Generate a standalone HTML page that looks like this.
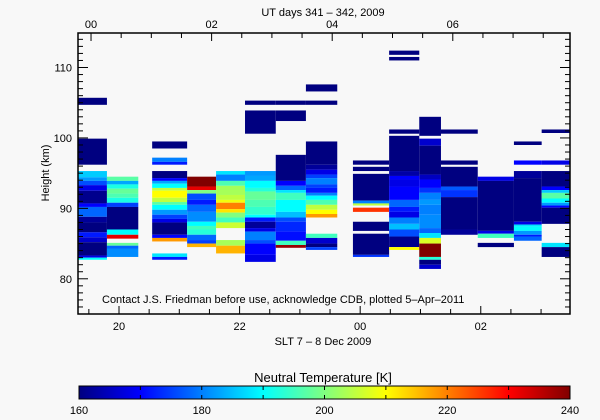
<!DOCTYPE html>
<html><head><meta charset="utf-8"><style>
body{margin:0;background:#f8f8f8;}
svg{display:block;font-family:"Liberation Sans",sans-serif;}
</style></head><body>
<svg id="chart" width="600" height="420" viewBox="0 0 600 420" xmlns="http://www.w3.org/2000/svg">
<rect width="600" height="420" fill="#f8f8f8"/>
<g id="cells"></g>
<g id="axes"></g>
<text x="102" y="303" font-size="11" fill="#000">Contact J.S. Friedman before use, acknowledge CDB, plotted 5–Apr–2011</text>
<text x="323" y="16" font-size="11" text-anchor="middle">UT days 341 – 342, 2009</text>
<text x="323" y="345" font-size="11" text-anchor="middle">SLT 7 – 8 Dec 2009</text>
<text transform="translate(49,173) rotate(-90)" font-size="11" text-anchor="middle">Height (km)</text>
<text x="323" y="382" font-size="13" text-anchor="middle">Neutral Temperature [K]</text>
<defs><linearGradient id="jet" x1="0" x2="1" y1="0" y2="0">
<stop offset="0" stop-color="#000080"/><stop offset="0.125" stop-color="#0000ff"/><stop offset="0.375" stop-color="#00ffff"/><stop offset="0.625" stop-color="#ffff00"/><stop offset="0.875" stop-color="#ff0000"/><stop offset="1" stop-color="#800000"/></linearGradient></defs>
<rect x="79" y="386" width="491" height="13" fill="url(#jet)" stroke="#000" stroke-width="1"/>
<g id="cbar"></g>
</svg>
<script>
// time bins (SLT hours, continuous past 24)
const colStart=[19.32,19.80,20.55,21.13,21.61,22.09,22.60,23.10,23.88,24.48,24.98,25.34,25.95,26.55,27.01];
const colEnd=[19.80,20.32,21.13,21.61,22.09,22.60,23.10,23.62,24.48,24.98,25.34,25.95,26.55,27.01,27.48];
// segments per column: [bottom km, top km, temperature K]
const col1=[[104.7,105.7,160],[96.2,99.9,160],[94.4,95.3,186],[93.9,94.4,182],[93.3,93.9,176],[92.5,93.3,168],[90.7,92.5,161],[90.2,90.7,170],[88.8,90.2,178],[88.0,88.8,162],[86.6,88.0,160],[85.9,86.6,172],[85.2,85.9,166],[83.3,85.2,160],[83.0,83.3,168],[82.7,83.0,190]];
const col2=[[93.9,94.5,197],[93.4,93.9,183],[92.8,93.4,192],[92.1,92.8,198],[91.5,92.1,196],[90.8,91.5,192],[90.2,90.8,175],[87.0,90.2,160],[86.25,87.0,190],[85.7,86.25,232],[84.7,85.1,198],[84.3,84.7,178],[83.1,84.3,181]];
const col3=[[98.5,99.5,160],[96.6,97.2,180],[96.2,96.6,172],[94.3,95.3,160],[93.9,94.3,170],[93.5,93.9,183],[92.9,93.5,190],[92.5,92.9,205],[91.5,92.5,210],[90.9,91.5,205],[90.5,90.9,197],[89.8,90.5,190],[89.1,89.8,182],[88.5,89.1,175],[88.0,88.5,168],[86.25,88.0,160],[85.8,86.25,170],[85.3,85.8,218],[83.1,83.6,188],[82.7,83.1,172]];
const col4=[[93.1,94.5,240],[92.6,93.1,232],[92.1,92.6,200],[91.2,92.1,176],[90.5,91.2,172],[89.5,90.5,178],[88.1,89.5,181],[87.5,88.1,190],[87.0,87.5,195],[86.25,87.0,193],[85.5,86.25,178],[85.0,85.5,175],[84.5,85.0,216]];
const col5=[[94.8,95.3,188],[93.9,94.8,180],[93.2,93.9,196],[91.9,93.2,203],[91.2,91.9,205],[90.8,91.2,209],[89.9,90.8,220],[89.4,89.9,212],[88.7,89.4,200],[88.0,88.7,195],[87.2,88.0,206],[84.7,85.5,203],[83.6,84.7,216]];
const col6=[[104.7,105.3,160],[100.6,103.9,160],[94.6,95.3,182],[93.9,94.6,183],[92.9,93.9,190],[92.4,92.9,193],[91.2,92.4,198],[90.2,91.2,196],[89.1,90.2,194],[88.7,89.1,190],[88.1,88.7,172],[87.2,88.1,162],[86.7,87.2,168],[85.5,86.7,180],[85.0,85.5,176],[83.4,85.0,170],[82.4,83.4,168]];
const col7=[[104.7,105.3,160],[102.4,103.9,160],[93.9,97.6,160],[93.2,93.9,170],[92.6,93.2,178],[92.2,92.6,188],[91.2,92.2,195],[89.5,91.2,190],[88.7,89.5,185],[88.1,88.7,176],[86.7,88.1,173],[85.4,86.7,171],[84.8,85.4,195],[84.4,84.8,238]];
const col8=[[106.6,107.6,160],[104.7,105.3,160],[96.2,99.5,160],[95.5,96.2,162],[94.8,95.5,168],[94.3,94.8,175],[93.4,94.3,180],[92.9,93.4,175],[92.2,92.9,172],[91.8,92.2,180],[91.2,91.8,190],[90.5,91.2,196],[89.8,90.5,205],[89.2,89.8,210],[88.7,89.2,218],[85.8,86.4,195],[85.0,85.8,166],[84.5,85.0,160],[84.1,84.5,175]];
const col9=[[96.2,96.8,160],[95.3,95.9,160],[91.1,94.9,160],[90.7,91.1,180],[90.4,90.7,205],[89.5,90.1,226],[86.8,88.1,160],[83.4,86.4,160],[83.1,83.4,174]];
const col10=[[111.8,112.4,160],[111.0,111.5,160],[100.6,101.2,160],[95.3,100.3,160],[94.6,95.3,163],[94.1,94.6,170],[93.1,94.1,168],[91.2,93.1,170],[90.2,91.2,178],[89.5,90.2,172],[88.7,89.5,168],[87.8,88.7,180],[87.0,87.8,185],[86.0,87.0,176],[84.5,86.0,161],[84.1,84.5,210]];
const col11=[[100.3,103.0,160],[98.9,99.9,166],[94.8,98.9,160],[94.1,94.8,165],[92.9,94.1,170],[92.2,92.9,174],[91.2,92.2,180],[90.5,91.2,182],[89.1,90.5,180],[87.2,89.1,181],[86.5,87.2,178],[85.8,86.5,188],[85.0,85.8,207],[83.1,85.0,240],[82.7,83.1,193],[82.0,82.7,160],[81.4,82.0,166]];
const col12=[[100.6,101.2,160],[96.2,96.8,160],[93.1,95.9,160],[92.6,93.1,177],[91.6,92.6,174],[87.0,91.6,160],[86.25,87.0,162]];
const col13=[[93.9,94.5,168],[86.8,93.9,160],[86.4,86.8,168],[85.8,86.4,195],[84.5,85.1,160]];
const col14=[[99.0,99.5,160],[96.2,96.8,170],[94.3,95.3,162],[88.1,94.3,160],[87.7,88.1,168],[87.4,87.7,188],[86.8,87.4,190],[86.25,86.8,182],[86.0,86.25,172],[85.4,86.0,178]];
const col15=[[100.7,101.2,160],[96.2,96.8,168],[93.1,95.3,160],[92.6,93.1,170],[92.2,92.6,186],[91.4,92.2,197],[90.8,91.4,190],[90.4,90.8,182],[90.1,90.4,170],[87.8,90.1,160],[84.5,85.1,188],[83.1,84.5,160]];
const columns=[col1,col2,col3,col4,col5,col6,col7,col8,col9,col10,col11,col12,col13,col14,col15];
const yTicks=[80,90,100,110];
const xTickLabels=["20","22","00","02"];
const xTickHours=[20,22,24,26];
const utTickLabels=["00","02","04","06"];
const utTickHours=[0,2,4,6];
const cbarTicks=[160,180,200,220,240];

const NS="http://www.w3.org/2000/svg";
const PL=78,PR=570,PT=33,PB=314;
const T0=19.32,T1=27.48,H0=75.0,H1=114.9;
const UT_OFFSET=19.536;
function xs(t){return PL+(t-T0)/(T1-T0)*(PR-PL);}
function ys(h){return PB-(h-H0)/(H1-H0)*(PB-PT);}
function jet(v){
  let f=Math.max(0,Math.min(1,(v-160)/80));
  const st=[[0,0,0,128],[0.125,0,0,255],[0.375,0,255,255],[0.625,255,255,0],[0.875,255,0,0],[1,128,0,0]];
  for(let i=0;i<st.length-1;i++){const a=st[i],b=st[i+1];if(f<=b[0]){const u=(f-a[0])/(b[0]-a[0]);return `rgb(${Math.round(a[1]+u*(b[1]-a[1]))},${Math.round(a[2]+u*(b[2]-a[2]))},${Math.round(a[3]+u*(b[3]-a[3]))})`;}}
  return "rgb(128,0,0)";
}
function mk(tag,attrs,parent){const e=document.createElementNS(NS,tag);for(const k in attrs)e.setAttribute(k,attrs[k]);parent.appendChild(e);return e;}
const cells=document.getElementById('cells');
columns.forEach((segs,ci)=>{
  const x0=xs(colStart[ci]),x1=xs(colEnd[ci]);
  segs.forEach(s=>{
    const r=mk('rect',{x:x0.toFixed(2),y:ys(s[1]).toFixed(2),width:(x1-x0).toFixed(2),height:(ys(s[0])-ys(s[1])).toFixed(2),fill:jet(s[2])},cells);
    
    
  });
});
const ax=document.getElementById('axes');
const frame=mk('rect',{x:PL,y:PT,width:PR-PL,height:PB-PT,fill:'none',stroke:'#000','stroke-width':1.5},ax);


for(let h=76;h<=114;h++){
  const y=ys(h),maj=yTicks.includes(h),L=maj?10:5;
  mk('line',{x1:PL,x2:PL+L,y1:y,y2:y,stroke:'#000'},ax);
  mk('line',{x1:PR,x2:PR-L,y1:y,y2:y,stroke:'#000'},ax);
}
yTicks.forEach(v=>{const t=mk('text',{x:PL-6,y:ys(v)+4,'font-size':11,'text-anchor':'end'},ax);t.textContent=v;
  
  });
for(let t=19.5;t<T1;t+=0.5){
  const x=xs(t),maj=xTickHours.includes(t),L=maj?8:5;
  mk('line',{x1:x,x2:x,y1:PB,y2:PB-L,stroke:'#000'},ax);
}
xTickHours.forEach((h,i)=>{const t=mk('text',{x:xs(h),y:330,'font-size':11,'text-anchor':'middle'},ax);t.textContent=xTickLabels[i];
  
  });
for(let u=0;u+UT_OFFSET<T1;u+=0.5){
  const x=xs(u+UT_OFFSET),maj=utTickHours.includes(u),L=maj?8:5;
  mk('line',{x1:x,x2:x,y1:PT,y2:PT+L,stroke:'#000'},ax);
}
utTickHours.forEach((u,i)=>{const t=mk('text',{x:xs(u+UT_OFFSET),y:28,'font-size':11,'text-anchor':'middle'},ax);t.textContent=utTickLabels[i];
  
  });
const cb=document.getElementById('cbar');
for(let v=160;v<=240;v+=10){const x=79+(v-160)/80*491;mk('line',{x1:x,x2:x,y1:386,y2:390,stroke:'#000'},cb);mk('line',{x1:x,x2:x,y1:399,y2:395,stroke:'#000'},cb);}
cbarTicks.forEach(v=>{const t=mk('text',{x:79+(v-160)/80*491,y:414,'font-size':11,'text-anchor':'middle'},cb);t.textContent=v;
  
  });
</script>
</body></html>
